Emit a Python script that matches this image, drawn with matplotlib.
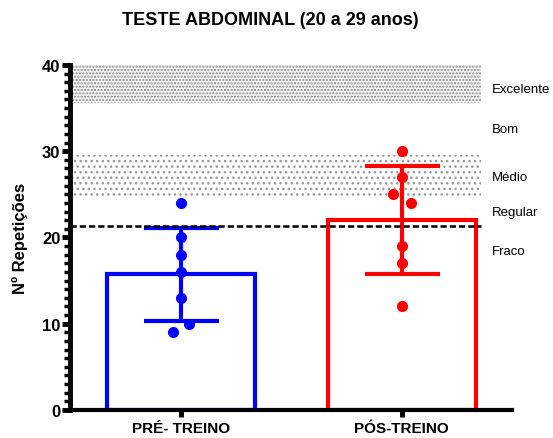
import matplotlib
matplotlib.use("Agg")
import matplotlib.pyplot as plt
import numpy as np
from matplotlib.ticker import MultipleLocator

plt.rcParams['font.family'] = ['Liberation Sans', 'DejaVu Sans']
plt.rcParams['hatch.linewidth'] = 1.0

categories = ["PRÉ- TREINO", "PÓS-TREINO"]
pre_values = [24, 20, 18, 16, 13, 10, 9]
pos_values = [30, 27, 25, 24, 19, 17, 12]
pre_jitter = [0, 0, 0, 0, 0, 0.04, -0.036]
pos_jitter = [0, 0, -0.04, 0.04, 0, 0, 0]
colors = ["#0000FF", "#FF0000"]

zone_labels = ["Excelente", "Bom", "Médio", "Regular", "Fraco"]
zone_label_y = [37.2, 32.6, 27.0, 22.9, 18.4]
band_excelente = (35.6, 40)
band_medio = (24.6, 29.6)
cut_line = 21.3

fig = plt.figure(figsize=(5.53, 4.39), dpi=100)
ax = fig.add_axes([0.1266, 0.0638, 0.8, 0.786])

x = np.arange(len(categories))
groups = [pre_values, pos_values]
jitters = [pre_jitter, pos_jitter]
band_right = 1.36

# bands
ax.fill_between([-0.5, band_right], band_excelente[0], band_excelente[1],
                facecolor='#f4f4f4', edgecolor='#8a8a8a', hatch='.....', linewidth=0, zorder=0)
ax.fill_between([-0.5, band_right], band_medio[0], band_medio[1],
                facecolor='white', edgecolor='#999999', hatch='...', linewidth=0, zorder=0)

for i, vals in enumerate(groups):
    m = np.mean(vals)
    s = np.std(vals, ddof=1)
    ax.bar(x[i], m, width=0.67, facecolor='none', edgecolor=colors[i], linewidth=3, zorder=2)
    ax.errorbar(x[i], m, yerr=s, color=colors[i], elinewidth=3, capsize=27, capthick=3,
                fmt='none', zorder=3)
    ax.plot(x[i] + np.array(jitters[i]), vals, 'o', color=colors[i], markersize=7, zorder=4)

ax.plot([-0.5, band_right], [cut_line, cut_line], color='black', linestyle=(0, (2.5, 1.2)),
        linewidth=1.8, zorder=5)

for lab, yy in zip(zone_labels, zone_label_y):
    ax.text(1.405, yy, lab, fontsize=9.5, va='center', ha='left')

ax.set_xlim(-0.5, 1.5)
ax.set_ylim(0, 40)
ax.set_xticks(x)
ax.set_xticklabels(categories, fontsize=11, fontweight='bold')
ax.set_yticks([0, 10, 20, 30, 40])
ax.set_yticklabels(['0', '10', '20', '30', '40'], fontsize=12, fontweight='bold')
ax.yaxis.set_minor_locator(MultipleLocator(1))
ax.tick_params(axis='y', which='major', length=6, width=3.5, pad=1)
ax.tick_params(axis='y', which='minor', length=4, width=2.5)
ax.tick_params(axis='x', which='major', length=5, width=3.5, pad=3)

for sp in ['top', 'right']:
    ax.spines[sp].set_visible(False)
ax.spines['left'].set_linewidth(3.5)
ax.spines['bottom'].set_linewidth(3.0)

ax.set_ylabel("Nº Repetições", fontsize=12, fontweight='bold', labelpad=10)
fig.text(0.489, 0.953, "TESTE ABDOMINAL (20 a 29 anos)", fontsize=13, fontweight='bold',
         ha='center', va='center')

fig.savefig("out.png", dpi=100)
